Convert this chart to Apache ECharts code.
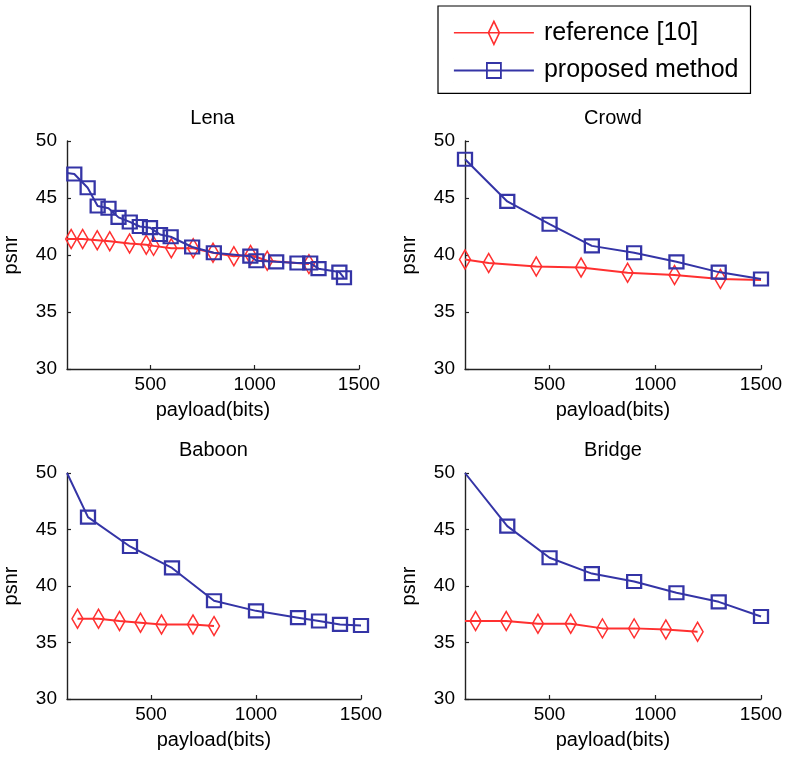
<!DOCTYPE html>
<html><head><meta charset="utf-8">
<script src="https://cdn.jsdelivr.net/npm/echarts@6/dist/echarts.min.js"></script>
<style>html,body{margin:0;padding:0;background:#fff}#c{width:789px;height:766px}</style>
</head><body><div id="c"></div>
<script>
// ---- data ----
const titles = ['Lena', 'Crowd', 'Baboon', 'Bridge'];
const seriesNames = ['reference [10]', 'proposed method'];
const xTickValues = [500, 1000, 1500];
const xName = 'payload(bits)';
const yName = 'psnr';

// Lena
const lenaRefX = [100, 120, 175, 245, 305, 400, 480, 515, 600, 705, 800, 900, 980, 1060, 1260];
const lenaRefY = [41.4, 41.4, 41.4, 41.3, 41.2, 41.0, 40.9, 40.8, 40.6, 40.6, 40.2, 39.9, 40.0, 39.5, 39.2];
const lenaRefNoMarker = [0];
const lenaPropX = [100, 135, 199, 247, 299, 347, 401, 449, 498, 546, 597, 700, 804, 979, 1008, 1103, 1205, 1266, 1306, 1406, 1428];
const lenaPropY = [47.2, 47.1, 45.9, 44.3, 44.1, 43.3, 42.9, 42.5, 42.4, 41.8, 41.6, 40.7, 40.2, 39.9, 39.5, 39.4, 39.3, 39.3, 38.8, 38.5, 38.0];
const lenaPropNoMarker = [0];

// Crowd
const crowdRefX = [100, 212, 437, 649, 869, 1091, 1308, 1500];
const crowdRefY = [39.6, 39.3, 39.0, 38.9, 38.45, 38.25, 37.9, 37.8];
const crowdRefNoMarker = [7];
const crowdPropX = [100, 300, 500, 700, 900, 1100, 1300, 1500];
const crowdPropY = [48.4, 44.7, 42.7, 40.8, 40.2, 39.4, 38.5, 37.9];
const crowdPropNoMarker = [];

// Baboon
const baboonRefX = [150, 250, 350, 450, 550, 700, 800];
const baboonRefY = [37.1, 37.1, 36.9, 36.75, 36.6, 36.6, 36.45];
const baboonRefNoMarker = [];
const baboonPropX = [100, 200, 400, 600, 800, 1000, 1200, 1300, 1400, 1500];
const baboonPropY = [50, 46.1, 43.5, 41.6, 38.7, 37.8, 37.2, 36.9, 36.6, 36.5];
const baboonPropNoMarker = [0];

// Bridge
const bridgeRefX = [100, 150, 295, 445, 600, 750, 900, 1050, 1200];
const bridgeRefY = [36.9, 36.9, 36.9, 36.65, 36.65, 36.25, 36.25, 36.15, 35.95];
const bridgeRefNoMarker = [0];
const bridgePropX = [100, 300, 500, 700, 900, 1100, 1300, 1500];
const bridgePropY = [50, 45.3, 42.5, 41.1, 40.4, 39.4, 38.6, 37.3];
const bridgePropNoMarker = [0];

// ---- styling / layout ----
const RED = '#ff3030';
const BLUE = '#3434a6';
const FONT = 'Liberation Sans, Arial, sans-serif';
const grids = [
  {left: 66, top: 141, width: 293, height: 228},
  {left: 465, top: 141, width: 296, height: 228},
  {left: 66, top: 473, width: 295, height: 226},
  {left: 465, top: 473, width: 296, height: 226}
];
const plots = [
  [lenaRefX, lenaRefY, lenaRefNoMarker, lenaPropX, lenaPropY, lenaPropNoMarker],
  [crowdRefX, crowdRefY, crowdRefNoMarker, crowdPropX, crowdPropY, crowdPropNoMarker],
  [baboonRefX, baboonRefY, baboonRefNoMarker, baboonPropX, baboonPropY, baboonPropNoMarker],
  [bridgeRefX, bridgeRefY, bridgeRefNoMarker, bridgePropX, bridgePropY, bridgePropNoMarker]
];

function buildData(xs, ys, noMarker) {
  return xs.map((x, i) => noMarker.indexOf(i) >= 0 ? {value: [x, ys[i]], symbol: 'none'} : [x, ys[i]]);
}

const xAxes = [], yAxes = [], series = [], titleOpts = [];
grids.forEach((g, gi) => {
  xAxes.push({
    gridIndex: gi, type: 'value', min: 100, max: 1500,
    name: xName, nameLocation: 'middle', nameGap: 31,
    nameTextStyle: {color: '#000', fontSize: 20, fontFamily: FONT},
    axisLine: {show: true, onZero: false, lineStyle: {color: '#222', width: 1.4}},
    axisTick: {show: true, inside: true, length: 4, customValues: xTickValues, lineStyle: {color: '#222', width: 1.2}},
    axisLabel: {color: '#000', fontSize: 19, fontFamily: FONT, margin: 6, customValues: xTickValues,
                formatter: v => String(v)},
    splitLine: {show: false}
  });
  yAxes.push({
    gridIndex: gi, type: 'value', min: 30, max: 50, interval: 5,
    name: yName, nameLocation: 'middle', nameGap: 46,
    nameTextStyle: {color: '#000', fontSize: 20, fontFamily: FONT},
    axisLine: {show: true, onZero: false, lineStyle: {color: '#222', width: 1.4}},
    axisTick: {show: true, inside: true, length: 4, lineStyle: {color: '#222', width: 1.2}},
    axisLabel: {color: '#000', fontSize: 19, fontFamily: FONT, margin: 10},
    splitLine: {show: false}
  });
  titleOpts.push({
    text: titles[gi], left: g.left + g.width / 2, top: g.top - 33, textAlign: 'center', padding: 0,
    textStyle: {color: '#000', fontSize: 20, fontWeight: 'normal', fontFamily: FONT}
  });
  const p = plots[gi];
  series.push({
    name: seriesNames[0], type: 'line', xAxisIndex: gi, yAxisIndex: gi,
    data: buildData(p[0], p[1], p[2]),
    symbol: 'diamond', symbolSize: [11, 19],
    itemStyle: {color: 'rgba(0,0,0,0)', borderColor: RED, borderWidth: 1.6},
    lineStyle: {color: RED, width: 2},
    emphasis: {disabled: true}, clip: true, z: 2
  });
  series.push({
    name: seriesNames[1], type: 'line', xAxisIndex: gi, yAxisIndex: gi,
    data: buildData(p[3], p[4], p[5]),
    symbol: 'rect', symbolSize: [14, 13],
    itemStyle: {color: 'rgba(0,0,0,0)', borderColor: BLUE, borderWidth: 2.2},
    lineStyle: {color: BLUE, width: 2},
    emphasis: {disabled: true}, clip: true, z: 3
  });
});

const refIcon = 'path://M0,0 L0.01,0 M0,24 L0.01,24 M0,12 L80,12 M40,0.5 L45.5,12 L40,23.5 L34.5,12 Z';
const propIcon = 'path://M0,0 L0.01,0 M0,24 L0.01,24 M0,12 L80,12 M33,4.5 L47,4.5 L47,19.5 L33,19.5 Z';

const option = {
  backgroundColor: '#fff',
  animation: false,
  title: titleOpts,
  grid: grids,
  xAxis: xAxes,
  yAxis: yAxes,
  legend: {
    orient: 'vertical', left: 438, top: 6,
    padding: [14, 12, 10, 15],
    itemWidth: 80, itemHeight: 24, itemGap: 12,
    borderColor: '#000', borderWidth: 1.2, borderRadius: 0,
    selectedMode: false,
    textStyle: {color: '#000', fontSize: 25, fontFamily: FONT, padding: [0, 0, 0, 5]},
    data: [
      {name: seriesNames[0], icon: refIcon, itemStyle: {color: 'rgba(0,0,0,0)', borderColor: RED, borderWidth: 1.6}},
      {name: seriesNames[1], icon: propIcon, itemStyle: {color: 'rgba(0,0,0,0)', borderColor: BLUE, borderWidth: 1.8}}
    ]
  },
  series: series
};
const chart = echarts.init(document.getElementById('c'), null, {renderer: 'canvas'});
chart.setOption(option);
</script>
</body></html>
